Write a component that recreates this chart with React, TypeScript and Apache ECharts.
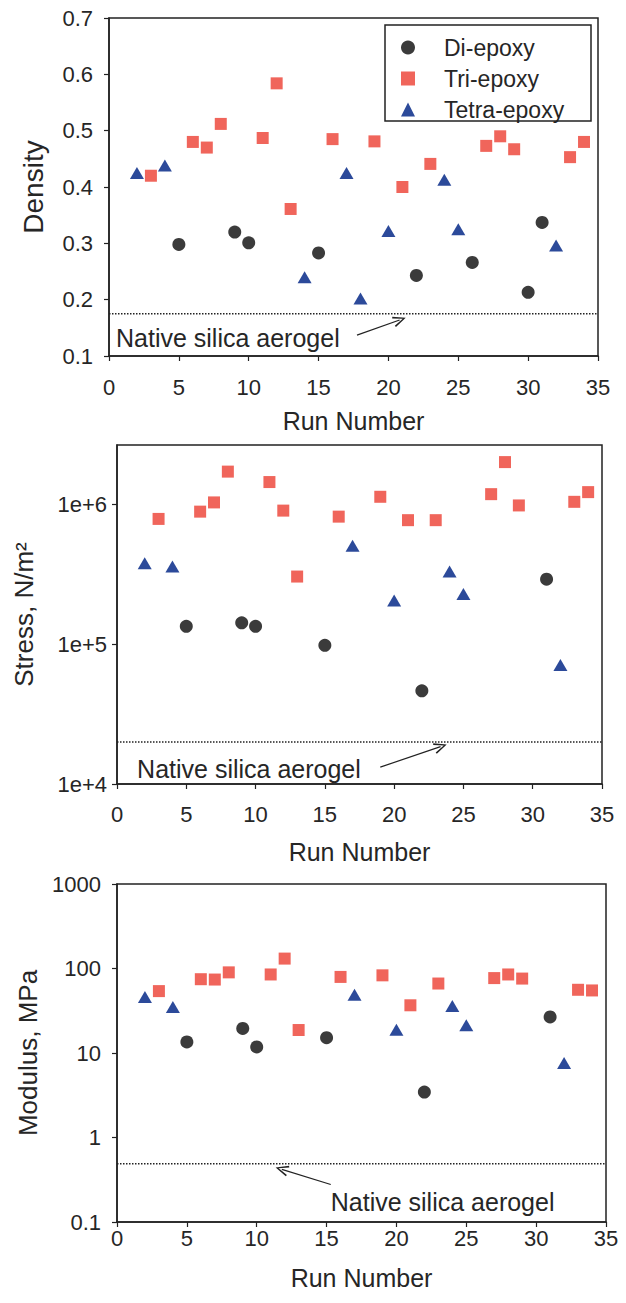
import React, { useEffect, useRef } from 'react';
import * as echarts from 'echarts';

// ---- data ----
const seriesNames = ['Di-epoxy', 'Tri-epoxy', 'Tetra-epoxy'];

const runsDi = [5, 9, 10, 15, 22, 26, 30, 31];
const densityDi = [0.298, 0.32, 0.301, 0.283, 0.243, 0.266, 0.213, 0.337];
const stressDi = [1.34e5, 1.42e5, 1.34e5, 9.8e4, 4.64e4, null, null, 2.91e5];
const modulusDi = [13.5, 19.5, 11.8, 15.2, 3.45, null, null, 26.7];

const runsTri = [3, 6, 7, 8, 11, 12, 13, 16, 19, 21, 23, 27, 28, 29, 33, 34];
const densityTri = [0.42, 0.48, 0.47, 0.512, 0.487, 0.584, 0.361, 0.485, 0.481, 0.4, 0.441, 0.473, 0.49, 0.467, 0.453, 0.48];
const stressTri = [7.85e5, 8.85e5, 1.03e6, 1.71e6, 1.44e6, 9.0e5, 3.04e5, 8.15e5, 1.13e6, 7.69e5, 7.69e5, 1.18e6, 2.0e6, 9.8e5, 1.04e6, 1.22e6];
const modulusTri = [54, 74.7, 74, 90, 85, 131, 18.7, 79.5, 83, 36.7, 66.4, 77, 85, 76, 56, 55];

const runsTetra = [2, 4, 14, 17, 18, 20, 24, 25, 32];
const densityTetra = [0.425, 0.438, 0.24, 0.425, 0.202, 0.322, 0.413, 0.325, 0.296];
const stressTetra = [3.79e5, 3.58e5, null, 5.04e5, null, 2.05e5, 3.3e5, 2.28e5, 7.1e4];
const modulusTetra = [46, 35, null, 49, null, 18.9, 36, 21.3, 7.6];

const nativeDensity = 0.175;
const nativeStress = 2.0e4;
const nativeModulus = 0.49;
const nativeLabel = 'Native silica aerogel';

const yNames = ['Density', 'Stress, N/m\u00B2', 'Modulus, MPa'];
const xName = 'Run Number';

// annotation anchors in data space: [textRun, textValue, arrowTailRun, arrowTailValue, arrowTipRun, arrowTipValue]
const annotations = [
  [0.5, 0.132, 17.75, 0.137, 20.8, 0.164],
  [1.45, 1.285e4, 19.0, 1.32e4, 23.35, 1.85e4],
  [15.3, 0.172, 15.3, 0.278, 11.8, 0.42],
];

// ---- styling ----
const FONT = 'Liberation Sans, Arial, Helvetica, sans-serif';
const TXT = '#262626';
const colors = ['#3b3b3b', '#f0655b', '#2c4a9a'];
const symbols = ['circle', 'rect', 'triangle'];
const symbolSizes: any[] = [13, 12, [14, 12]];
const openArrow = 'path://M5,0 L10,11 L8.6,11.6 L5,2.8 L1.4,11.6 L0,11 Z';

const pairs = (runs: number[], vals: (number | null)[]) =>
  runs.map((r, i) => (vals[i] == null ? null : [r, vals[i]])).filter((p) => p !== null);

const panelData = [
  [pairs(runsDi, densityDi), pairs(runsTri, densityTri), pairs(runsTetra, densityTetra)],
  [pairs(runsDi, stressDi), pairs(runsTri, stressTri), pairs(runsTetra, stressTetra)],
  [pairs(runsDi, modulusDi), pairs(runsTri, modulusTri), pairs(runsTetra, modulusTetra)],
];
const nativeValues = [nativeDensity, nativeStress, nativeModulus];

const grids = [
  { left: 109, right: 28, top: 18, height: 338 },
  { left: 117, right: 24, top: 445, height: 339 },
  { left: 117, right: 20, top: 884, height: 338 },
];
const xLabelMargin = [20, 19, 5];
const xNameGap = [52, 55, 43];
const yNameGap = [62, 80, 75];
const yNameSize = [28, 26, 26];
const yLabelMargin = [16, 10, 16];

const isPow10 = (v: number) => Math.abs(Math.log10(v) - Math.round(Math.log10(v))) < 1e-6;

export default function App() {
  const ref = useRef<HTMLDivElement>(null);
  useEffect(() => {
    document.body.style.margin = '0';
    const chart = echarts.init(ref.current!, null, { renderer: 'svg' });

    const xAxis = [0, 1, 2].map((i) => ({
      gridIndex: i,
      type: 'value',
      min: 0,
      max: 35,
      interval: 5,
      name: xName,
      nameLocation: 'middle',
      nameGap: xNameGap[i],
      nameTextStyle: { fontSize: 25, color: TXT, fontFamily: FONT },
      axisLine: { show: true, lineStyle: { color: '#222', width: 1.5 } },
      axisTick: { show: true, length: 5, lineStyle: { color: '#222', width: 1.2 } },
      axisLabel: { fontSize: 22, color: TXT, fontFamily: FONT, margin: xLabelMargin[i] },
      splitLine: { show: false },
    }));

    const yCommon = (i: number) => ({
      gridIndex: i,
      name: yNames[i],
      nameLocation: 'middle',
      nameGap: yNameGap[i],
      nameTextStyle: { fontSize: yNameSize[i], color: TXT, fontFamily: FONT },
      axisLine: { show: true, lineStyle: { color: '#222', width: 1.5 } },
      splitLine: { show: false },
      minorTick: { show: false },
    });

    const yAxis = [
      {
        ...yCommon(0),
        type: 'value',
        min: 0.1,
        max: 0.7,
        interval: 0.1,
        axisTick: { show: true, length: 5, lineStyle: { color: '#222', width: 1.2 } },
        axisLabel: {
          fontSize: 22, color: TXT, fontFamily: FONT, margin: yLabelMargin[0],
          formatter: (v: number) => v.toFixed(1),
        },
      },
      {
        ...yCommon(1),
        type: 'log',
        logBase: 10,
        min: 1e4,
        max: 2.65e6,
        axisTick: { show: true, length: 5, customValues: [1e4, 1e5, 1e6], lineStyle: { color: '#222', width: 1.2 } },
        axisLabel: {
          fontSize: 22, color: TXT, fontFamily: FONT, margin: yLabelMargin[1],
          customValues: [1e4, 1e5, 1e6],
          formatter: (v: number) => (isPow10(v) ? '1e+' + Math.round(Math.log10(v)) : ''),
        },
      },
      {
        ...yCommon(2),
        type: 'log',
        logBase: 10,
        min: 0.1,
        max: 1000,
        axisTick: { show: true, length: 5, lineStyle: { color: '#222', width: 1.2 } },
        axisLabel: {
          fontSize: 22, color: TXT, fontFamily: FONT, margin: yLabelMargin[2],
          formatter: (v: number) => (isPow10(v) ? String(Math.pow(10, Math.round(Math.log10(v)))) : ''),
        },
      },
    ];

    const series: any[] = [];
    for (let p = 0; p < 3; p++) {
      for (let s = 0; s < 3; s++) {
        series.push({
          type: 'scatter',
          name: seriesNames[s],
          xAxisIndex: p,
          yAxisIndex: p,
          data: panelData[p][s],
          symbol: symbols[s],
          symbolSize: symbolSizes[s],
          itemStyle: { color: colors[s], opacity: 1 },
          z: 3,
        });
      }
      const a = annotations[p];
      series.push({
        type: 'line',
        name: 'native-' + p,
        xAxisIndex: p,
        yAxisIndex: p,
        data: [[0, nativeValues[p]], [35, nativeValues[p]]],
        symbol: 'none',
        silent: true,
        lineStyle: { color: '#222', width: 1.5, type: [1.5, 1.5] },
        z: 2,
        markPoint: {
          silent: true,
          symbol: 'circle',
          symbolSize: 0,
          itemStyle: { color: 'transparent' },
          label: {
            show: true,
            position: 'right',
            distance: 0,
            formatter: nativeLabel,
            fontSize: 25,
            color: TXT,
            fontFamily: FONT,
          },
          data: [{ coord: [a[0], a[1]] }],
        },
        markLine: {
          silent: true,
          symbol: ['none', openArrow],
          symbolSize: [11, 13],
          label: { show: false },
          lineStyle: { color: '#222', width: 1.2, type: 'solid' },
          data: [[{ coord: [a[2], a[3]] }, { coord: [a[4], a[5]] }]],
        },
      });
    }

    chart.setOption({
      animation: false,
      textStyle: { fontFamily: FONT },
      grid: grids.map((g) => ({ ...g, show: true, borderColor: '#222', borderWidth: 1.5, backgroundColor: 'transparent' })),
      xAxis,
      yAxis,
      legend: {
        data: seriesNames,
        orient: 'vertical',
        left: 396,
        top: 31,
        itemWidth: 14,
        itemHeight: 14,
        itemGap: 8,
        symbolKeepAspect: true,
        selectedMode: false,
        formatter: (name: string) => '{t|' + name + '}',
        textStyle: {
          fontSize: 23, color: TXT, fontFamily: FONT,
          rich: { t: { fontSize: 23, color: TXT, fontFamily: FONT, lineHeight: 24, padding: [0, 0, 0, 24] } },
        },
      },
      graphic: [
        {
          type: 'rect',
          shape: { x: 385, y: 25, width: 206, height: 96 },
          style: { fill: 'none', stroke: '#222', lineWidth: 1.5 },
          z: 10,
        },
      ],
      series,
    });
    return () => chart.dispose();
  }, []);
  return <div ref={ref} style={{ width: 626, height: 1303 }} />;
}
